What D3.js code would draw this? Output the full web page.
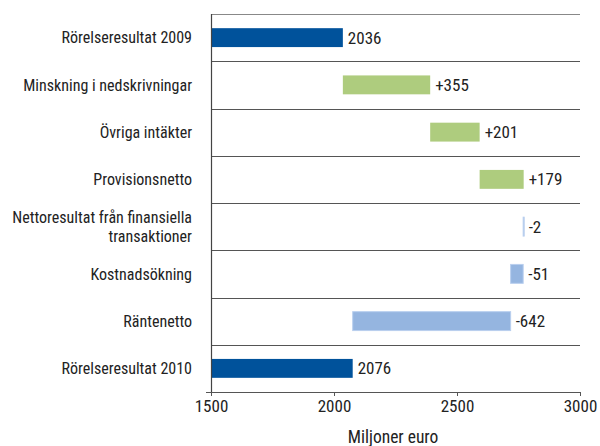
<!DOCTYPE html>
<html>
<head>
<meta charset="utf-8">
<script src="https://cdn.jsdelivr.net/npm/d3@7"></script>
<style>
  body { margin: 0; background: #fff; }
  svg text { font-family: "Liberation Sans Narrow", "Arial Narrow", "Roboto Condensed", "Liberation Sans", sans-serif; fill: #222; }
</style>
</head>
<body>
<svg id="chart" width="600" height="446"></svg>
<script>
// categories, top to bottom
var categories = [
  "Rörelseresultat 2009",
  "Minskning i nedskrivningar",
  "Övriga intäkter",
  "Provisionsnetto",
  "Nettoresultat från finansiella|transaktioner",
  "Kostnadsökning",
  "Räntenetto",
  "Rörelseresultat 2010"
];
// change per step (first and last are totals)
var values = [2036, 355, 201, 179, -2, -51, -642, 2076];
var kinds = ["total", "up", "up", "up", "down", "down", "down", "total"];
var xTicks = [1500, 2000, 2500, 3000];

var colors = { total: "#00529B", up: "#AECC7E", down: "#95B5E0" };

var svg = d3.select('#chart');
var mLeft = 211, mRight = 580, mTop = 14, mBottom = 392;

var x = d3.scaleLinear().domain([1500, 3000]).range([mLeft, mRight]);
var y = d3.scaleBand().domain(d3.range(categories.length)).range([mTop, mBottom])
    .paddingInner(0.6).paddingOuter(0.3);

// build waterfall start/end
var cum = 0, bars = [];
values.forEach(function(v, i) {
    var s, e;
    if (kinds[i] == "total") { s = 1500; e = v; cum = v; }
    else { s = cum; e = cum + v; cum = e; }
    var label = kinds[i] == "total" ? String(v) : (v > 0 ? "+" + v : String(v));
    bars.push({ i: i, s: s, e: e, kind: kinds[i], label: label });
});

// row separators
var step = y.step();
svg.append('g').selectAll('line').data(d3.range(categories.length)).enter().append('line')
    .attr('x1', mLeft).attr('x2', mRight)
    .attr('y1', function(d) { return Math.round(mTop + d * step) + 0.5; })
    .attr('y2', function(d) { return Math.round(mTop + d * step) + 0.5; })
    .attr('stroke', function(d) { return d == 0 ? '#888' : '#555'; })
    .attr('stroke-width', 1);

// bars
svg.append('g').selectAll('rect').data(bars).enter().append('rect')
    .attr('x', function(d) { return x(Math.min(d.s, d.e)); })
    .attr('y', function(d) { return y(d.i); })
    .attr('width', function(d) { return Math.max(1, Math.abs(x(d.e) - x(d.s))); })
    .attr('height', y.bandwidth())
    .attr('fill', function(d) { return colors[d.kind]; })
    .attr('stroke', function(d) { return d.kind == "down" ? '#B9CFEE' : 'none'; })
    .attr('stroke-width', 1);

// value labels
svg.append('g').selectAll('text').data(bars).enter().append('text')
    .attr('x', function(d) { return x(Math.max(d.s, d.e)) + 5; })
    .attr('y', function(d) { return y(d.i) + y.bandwidth() / 2; })
    .attr('dy', '0.36em')
    .style('font-size', '17px')
    .text(function(d) { return d.label; });

// category labels
var cat = svg.append('g').selectAll('text').data(categories).enter().append('text')
    .attr('x', 192)
    .attr('y', function(d, i) { return y(i) + y.bandwidth() / 2; })
    .attr('text-anchor', 'end')
    .style('font-size', '16px');
cat.each(function(d) {
    var parts = d.split('|'), t = d3.select(this);
    parts.forEach(function(p, k) {
        t.append('tspan').attr('x', 192)
            .attr('dy', k == 0 ? (0.36 - (parts.length - 1) * 0.6) + 'em' : '1.2em')
            .text(p);
    });
});

// left axis line
svg.append('line').attr('x1', mLeft + 0.5).attr('x2', mLeft + 0.5)
    .attr('y1', mTop).attr('y2', mBottom)
    .attr('stroke', '#444').attr('stroke-width', 1.2);

// x axis
var xAxis = d3.axisBottom(x).tickValues(xTicks).tickFormat(d3.format('d'))
    .tickSize(4).tickSizeOuter(0).tickPadding(4);
var gx = svg.append('g').attr('transform', 'translate(0,' + mBottom + ')').call(xAxis);
gx.select('.domain').attr('stroke', '#555').attr('d', 'M' + (mLeft - 5) + ',0.5H' + mRight);
gx.selectAll('.tick line').attr('stroke', '#555');
gx.selectAll('.tick text').style('font-size', '17px').attr('fill', '#222')
    .style('font-family', '"Liberation Sans Narrow", "Arial Narrow", "Roboto Condensed", "Liberation Sans", sans-serif');

svg.append('text').attr('x', 393).attr('y', 443).attr('text-anchor', 'middle')
    .style('font-size', '17.5px').text('Miljoner euro');
</script>
</body>
</html>
